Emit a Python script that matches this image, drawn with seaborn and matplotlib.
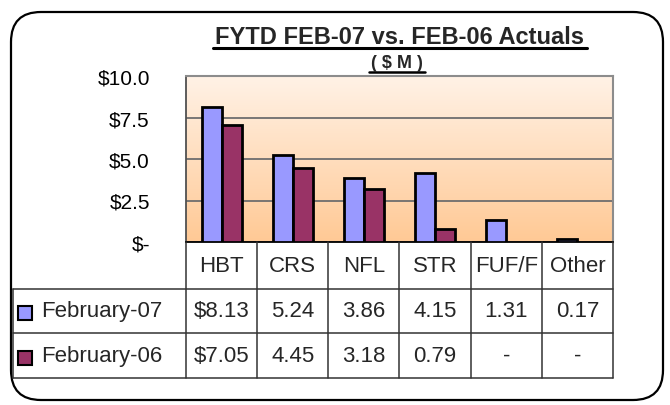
import numpy as np
import pandas as pd
import matplotlib
matplotlib.use("Agg")
import matplotlib.pyplot as plt
import seaborn as sns
from matplotlib.patches import FancyBboxPatch, Rectangle
from matplotlib.lines import Line2D
from matplotlib.colors import LinearSegmentedColormap
from matplotlib.transforms import blended_transform_factory, IdentityTransform

# ---------------- data ----------------
categories = ["HBT", "CRS", "NFL", "STR", "FUF/F", "Other"]
feb07 = [8.13, 5.24, 3.86, 4.15, 1.31, 0.17]
feb06 = [7.05, 4.45, 3.18, 0.79, np.nan, np.nan]
series_names = ["February-07", "February-06"]
series_colors = ["#9999FF", "#993366"]
yticks = [0, 2.5, 5.0, 7.5, 10.0]
ytick_labels = ["$-", "$2.5", "$5.0", "$7.5", "$10.0"]
feb07_labels = ["$8.13", "5.24", "3.86", "4.15", "1.31", "0.17"]
feb06_labels = ["$7.05", "4.45", "3.18", "0.79", "-", "-"]
title = "FYTD FEB-07 vs. FEB-06 Actuals"
subtitle = "( $ M )"

# ---------------- setup ----------------
W, H = 670, 406
sns.set_theme(style="white")
plt.rcParams['font.family'] = ['Liberation Sans', 'DejaVu Sans']

fig = plt.figure(figsize=(W / 100, H / 100), dpi=100)
fig.patch.set_facecolor("white")


def fx(px):
    return px / W


def fy(py):
    return 1 - py / H


ax_l, ax_r, ax_t, ax_b = 186, 613, 77, 243
ax = fig.add_axes([fx(ax_l), fy(ax_b), (ax_r - ax_l) / W, (ax_b - ax_t) / H])

df = pd.DataFrame({
    "category": categories * 2,
    "value": feb07 + feb06,
    "series": [series_names[0]] * len(categories) + [series_names[1]] * len(categories),
})

# gradient plot-area background
grad = np.linspace(0, 1, 256).reshape(-1, 1)
cmap = LinearSegmentedColormap.from_list("g", ["#FFF2E6", "#FFC995"])
ax.imshow(grad, extent=[0, 1, 0, 1], transform=ax.transAxes, cmap=cmap,
          aspect="auto", zorder=-2, origin="upper")

sns.barplot(data=df, x="category", y="value", hue="series", order=categories,
            hue_order=series_names, palette=series_colors, saturation=1,
            width=0.56, edgecolor="black", linewidth=2, ax=ax, legend=False,
            zorder=3)

ax.set_xlim(-0.5, len(categories) - 0.5)
ax.set_ylim(0, 10)
ax.set_axisbelow(True)
ax.yaxis.grid(True, color="#6E6E6E", lw=1.3)
ax.xaxis.grid(False)
ax.set_xlabel("")
ax.set_ylabel("")
ax.tick_params(axis="x", length=0, labelbottom=False)
ax.set_yticks(yticks)
ax.set_yticklabels(ytick_labels, fontsize=15)
ax.tick_params(axis="y", direction="out", length=6, width=1.2, pad=20,
               color="#404040", labelcolor="black")
for side in ["top", "right"]:
    ax.spines[side].set_color("#8C8C8C")
    ax.spines[side].set_linewidth(1.5)
ax.spines["left"].set_color("#505050")
ax.spines["left"].set_linewidth(1.3)
ax.spines["bottom"].set_color("black")
ax.spines["bottom"].set_linewidth(1.3)

# ---------------- data table ----------------
row_y = [243, 290, 334, 379]
tbl_left = 13
lc = "#333333"
bt = blended_transform_factory(ax.transData, fig.transFigure)
for i in range(len(categories) + 1):
    fig.add_artist(Line2D([i - 0.5, i - 0.5], [fy(row_y[0]), fy(row_y[-1])],
                          transform=bt, color=lc, lw=1.1))
for yy in row_y[1:]:
    fig.add_artist(Line2D([fx(tbl_left), fx(ax_r)], [fy(yy), fy(yy)],
                          transform=fig.transFigure, color=lc, lw=1.1))
fig.add_artist(Line2D([fx(tbl_left), fx(tbl_left)], [fy(row_y[1]), fy(row_y[-1])],
                      transform=fig.transFigure, color=lc, lw=1.1))

fs = 16
mid_h = (row_y[0] + row_y[1]) / 2
for i, c in enumerate(categories):
    fig.text(i, fy(mid_h), c, transform=bt, ha="center", va="center", fontsize=fs)

for r, (name, col, labels) in enumerate(zip(series_names, series_colors,
                                             [feb07_labels, feb06_labels])):
    mid = (row_y[r + 1] + row_y[r + 2]) / 2
    for i, lab in enumerate(labels):
        fig.text(i, fy(mid), lab, transform=bt, ha="center", va="center", fontsize=fs)
    sq = 14
    fig.add_artist(Rectangle((fx(18), fy(mid + 2 + sq / 2)), sq / W, sq / H,
                             transform=fig.transFigure, facecolor=col,
                             edgecolor="black", lw=1.5))
    fig.text(fx(41), fy(mid), name, ha="left", va="center", fontsize=fs)

# ---------------- outer rounded frame ----------------
fx0, fy0, fx1, fy1 = 11, 13, 663, 401
frame = FancyBboxPatch((fx0, H - fy1), fx1 - fx0, fy1 - fy0,
                       boxstyle="round,pad=0,rounding_size=30",
                       transform=IdentityTransform(), facecolor="none",
                       edgecolor="black", lw=1.6)
fig.add_artist(frame)

# ---------------- titles ----------------
t1 = fig.text(fx(400), fy(38), title, ha="center", va="center",
              fontsize=17, fontweight="bold")
t2 = fig.text(fx(397), fy(64), subtitle, ha="center", va="center",
              fontsize=13, fontweight="bold")
fig.canvas.draw()
r = fig.canvas.get_renderer()
for t, lw, off in [(t1, 2.2, 1), (t2, 1.8, 0)]:
    bb = t.get_window_extent(renderer=r)
    fig.add_artist(Line2D([bb.x0 - 2, bb.x1 + 2], [bb.y0 + off, bb.y0 + off],
                          transform=IdentityTransform(), color="black", lw=lw))

fig.savefig("out.png", dpi=100, facecolor="white")
